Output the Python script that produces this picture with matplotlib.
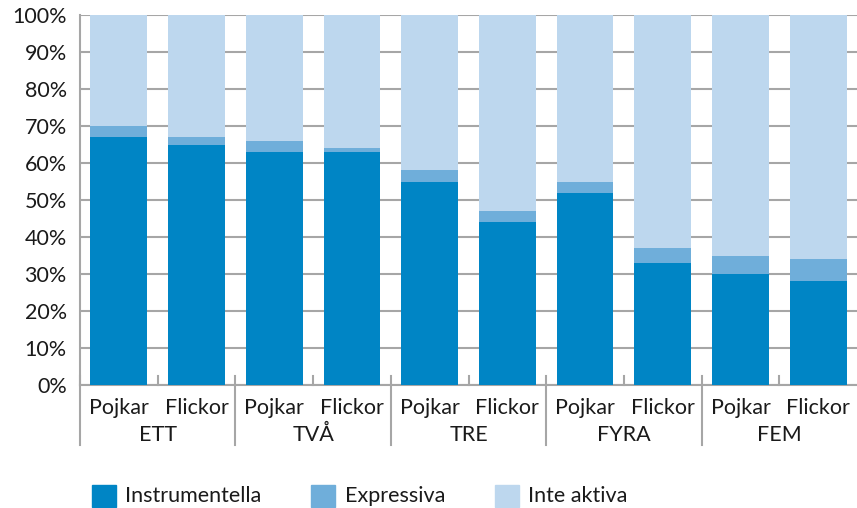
import matplotlib
matplotlib.use("Agg")
import matplotlib.pyplot as plt
from matplotlib.patches import Rectangle
import matplotlib.transforms as mtrans

groups = ["ETT", "TVÅ", "TRE", "FYRA", "FEM"]
subcats = ["Pojkar", "Flickor"]
instrumentella = [67, 65, 63, 63, 55, 44, 52, 33, 30, 28]
expressiva = [3, 2, 3, 1, 3, 3, 3, 4, 5, 6]
inte_aktiva = [100 - a - b for a, b in zip(instrumentella, expressiva)]
yticks = [0, 10, 20, 30, 40, 50, 60, 70, 80, 90, 100]
series_names = ["Instrumentella", "Expressiva", "Inte aktiva"]

c_instr = "#0085C5"
c_expr = "#6FAEDA"
c_inte = "#BDD7EE"
colors = [c_instr, c_expr, c_inte]
gray = "#A6A6A6"
txt = "#1a1a1a"
fs = 15.5

plt.rcParams['font.family'] = ['Lato', 'DejaVu Sans']

W, H = 857, 508
fig = plt.figure(figsize=(W / 100, H / 100), dpi=100)
ax = fig.add_axes([80 / W, 123 / H, 777 / W, 370 / H])

x = list(range(len(instrumentella)))
w = 0.73
bottom2 = [a + b for a, b in zip(instrumentella, expressiva)]
ax.bar(x, instrumentella, width=w, color=c_instr, zorder=3)
ax.bar(x, expressiva, width=w, bottom=instrumentella, color=c_expr, zorder=3)
ax.bar(x, inte_aktiva, width=w, bottom=bottom2, color=c_inte, zorder=3)

ax.set_xlim(-0.5, len(x) - 0.5)
ax.set_ylim(0, 100)
ax.set_yticks(yticks)
ax.set_yticklabels([f"{v}%" for v in yticks], fontsize=fs, color=txt)
ax.tick_params(axis='y', length=0, pad=9.5)
ax.yaxis.grid(True, color=gray, linewidth=1.5, zorder=0)
ax.set_xticks([])
for s in ["top", "right"]:
    ax.spines[s].set_visible(False)
for s in ["left", "bottom"]:
    ax.spines[s].set_color(gray)
    ax.spines[s].set_linewidth(1.5)

trans = mtrans.blended_transform_factory(ax.transData, ax.transAxes)
labels = [s for g in groups for s in subcats]
for xi, lab in zip(x, labels):
    ax.text(xi, -0.063, lab, transform=trans, ha="center", va="center",
            fontsize=fs, color=txt)
for gi, g in enumerate(groups):
    ax.text(gi * 2 + 0.5, -0.135, g, transform=trans, ha="center", va="center",
            fontsize=fs, color=txt)
    ax.plot([gi * 2 + 0.5, gi * 2 + 0.5], [0, 0.025], transform=trans,
            color=gray, linewidth=1.5, clip_on=False, zorder=4)
    ax.plot([gi * 2 - 0.5, gi * 2 - 0.5], [0.025, -0.162], transform=trans,
            color=gray, linewidth=1.5, clip_on=False, zorder=4)

# legend (manual placement)
sq_x = [92, 311, 495]
tx_x = [125, 345, 528]
yc = 496
sq_w, sq_h = 24, 22
for name, col, sx, tx in zip(series_names, colors, sq_x, tx_x):
    fig.patches.append(Rectangle((sx / W, 1 - (yc + sq_h / 2) / H), sq_w / W, sq_h / H,
                                 transform=fig.transFigure, color=col))
    fig.text(tx / W, 1 - yc / H, name, ha="left", va="center", fontsize=fs, color=txt)

fig.savefig("out.png", dpi=100)
